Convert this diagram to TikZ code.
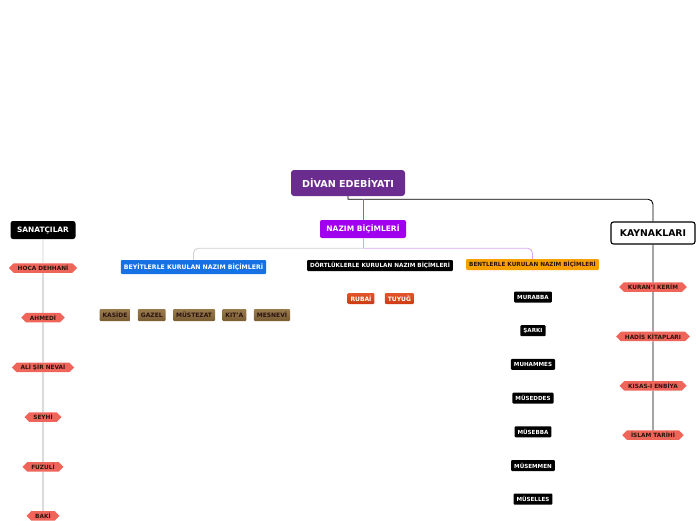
\documentclass[tikz,border=0pt]{standalone}
\usepackage{fontspec}
\setsansfont{DejaVu Sans}
\usetikzlibrary{positioning,shapes.symbols,calc}
\definecolor{divanpurple}{HTML}{6A2C8E}
\definecolor{nazimviolet}{HTML}{A100F0}
\definecolor{beyitblue}{HTML}{1672E4}
\definecolor{bentorange}{HTML}{F7A000}
\definecolor{dortredtop}{HTML}{E2562A}
\definecolor{dortredbot}{HTML}{CC3A14}
\definecolor{browntop}{HTML}{9A7B4C}
\definecolor{brownbot}{HTML}{7A5C34}
\definecolor{hexsalmon}{HTML}{F0655A}
\definecolor{darktext}{HTML}{2A1410}
\definecolor{linegray}{HTML}{9A9A9A}
\definecolor{lightgray}{HTML}{D0D0D0}
\definecolor{lilac}{HTML}{D9A8F2}
\definecolor{linepurple}{HTML}{A650D8}

\begin{document}
\begin{tikzpicture}[
  x=1pt, y=-1pt,
  font=\sffamily\bfseries,
  root/.style={fill=divanpurple, text=white, rounded corners=3pt,
               minimum width=114pt, minimum height=26pt,
               font=\sffamily\bfseries\fontsize{9.6}{10}\selectfont},
  main/.style={fill=nazimviolet, text=white, rounded corners=2pt,
               minimum width=86pt, minimum height=18pt,
               font=\sffamily\bfseries\fontsize{7.5}{8}\selectfont},
  topic/.style={fill=black, text=white, rounded corners=2.5pt,
                minimum height=18pt, minimum width=65pt, inner xsep=3pt,
                font=\sffamily\bfseries\fontsize{7.4}{8}\selectfont},
  sect/.style={text=white, rounded corners=1pt, minimum height=11pt,
               inner xsep=3pt, inner ysep=0pt,
               font=\sffamily\bfseries\fontsize{5.7}{6}\selectfont},
  leaf/.style={text=white, rounded corners=1pt, minimum height=11pt,
               inner xsep=3pt, inner ysep=0pt,
               font=\sffamily\bfseries\fontsize{6}{6}\selectfont},
  brownleaf/.style={leaf, top color=browntop, bottom color=brownbot,
                    text=darktext, minimum height=12pt},
  redleaf/.style={leaf, top color=dortredtop, bottom color=dortredbot},
  blackleaf/.style={leaf, fill=black,
                    font=\sffamily\bfseries\fontsize{5.6}{6}\selectfont},
  hexa/.style={signal, signal to=west and east, fill=hexsalmon, text=darktext,
               minimum height=9.5pt, inner xsep=4pt, inner ysep=0pt,
               font=\sffamily\bfseries\fontsize{5.8}{6}\selectfont},
  conn/.style={line width=0.9pt},
  node distance=7pt]
\useasboundingbox (0,0) rectangle (696,520);

% ---- root and main branch ----
\node[root] (divan) at (348,183) {DİVAN EDEBİYATI};
\node[main] (nazim) at (363,229) {NAZIM BİÇİMLERİ};
\coordinate (jdivan) at ($(divan.south)+(0,3)$);
\coordinate (jnazim) at ($(nazim.south)+(0,10)$);

% ---- form groups ----
\node[sect, fill=beyitblue, minimum height=14pt,
      font=\sffamily\bfseries\fontsize{6.2}{7}\selectfont] (beyit) at (193.5,267) {BEYİTLERLE KURULAN NAZIM BİÇİMLERİ};
\node[sect, fill=black] (dortluk) at (380,265.5) {DÖRTLÜKLERLE KURULAN NAZIM BİÇİMLERİ};
\node[sect, fill=bentorange, text=darktext] (bent) at (532.5,264.5) {BENTLERLE KURULAN NAZIM BİÇİMLERİ};

% ---- beyit forms ----
\node[brownleaf] (kaside) at (115,315) {KASİDE};
\node[brownleaf, right=of kaside] (gazel) {GAZEL};
\node[brownleaf, right=of gazel] (mustezat) {MÜSTEZAT};
\node[brownleaf, right=of mustezat] (kita) {KIT'A};
\node[brownleaf, right=of kita] (mesnevi) {MESNEVİ};

% ---- dortluk forms ----
\node[redleaf] (rubai) at (361,298.5) {RUBAİ};
\node[redleaf, right=10pt of rubai] (tuyug) {TUYUĞ};

% ---- bent forms ----
\node[blackleaf] (murabba) at (533,297) {MURABBA};
\node[blackleaf, below=22.3pt of murabba] (sarki) {ŞARKI};
\node[blackleaf, below=22.3pt of sarki] (muhammes) {MUHAMMES};
\node[blackleaf, below=22.3pt of muhammes] (museddes) {MÜSEDDES};
\node[blackleaf, below=22.3pt of museddes] (musebba) {MÜSEBBA};
\node[blackleaf, below=22.3pt of musebba] (musemmen) {MÜSEMMEN};
\node[blackleaf, below=22.3pt of musemmen] (muselles) {MÜSELLES};

% ---- poets ----
\node[topic] (sanat) at (43,230) {SANATÇILAR};
\node[hexa] (hoca) at (43,268) {HOCA DEHHANİ};
\node[hexa, below=39.8pt of hoca] (ahmedi) {AHMEDİ};
\node[hexa, below=39.8pt of ahmedi] (nevai) {ALİ ŞİR NEVAİ};
\node[hexa, below=39.8pt of nevai] (seyhi) {SEYHİ};
\node[hexa, below=39.8pt of seyhi] (fuzuli) {FUZULİ};
\node[hexa, below=39.2pt of fuzuli] (baki) {BAKİ};

% ---- sources ----
\node[topic, fill=white, text=black, draw=black, line width=1.1pt,
      font=\sffamily\bfseries\fontsize{9.3}{10}\selectfont,
      minimum height=22pt, minimum width=84pt] (kaynak) at (653,233) {KAYNAKLARI};
\node[hexa] (kuran) at (653,287) {KURAN'I KERİM};
\node[hexa, below=39.5pt of kuran] (hadis) {HADİS KİTAPLARI};
\node[hexa, below=39.5pt of hadis] (kisas) {KISAS-I ENBİYA};
\node[hexa, below=39.5pt of kisas] (islam) {İSLAM TARİHİ};

% ---- connectors ----
\draw[conn, black] (divan.south) -- (jdivan) [rounded corners=5pt] -| (kaynak.north);
\draw[conn, linepurple] (jdivan -| nazim.north) -- (nazim.north);
\draw[conn, lilac] (nazim.south) -- (jnazim);
\draw[conn, lightgray, rounded corners=5pt] (jnazim) -| (beyit.north);
\draw[conn, lilac, rounded corners=5pt] (jnazim) -| (bent.north);

\draw[conn, lightgray] (sanat) -- (hoca);
\draw[conn, linegray] (hoca) -- (ahmedi);
\draw[conn, linegray] (ahmedi) -- (nevai);
\draw[conn, linegray] (nevai) -- (seyhi);
\draw[conn, linegray] (seyhi) -- (fuzuli);
\draw[conn, linegray] (fuzuli) -- (baki);

\draw[conn, black] (kaynak) -- (kuran);
\draw[conn, black] (kuran) -- (hadis);
\draw[conn, black] (hadis) -- (kisas);
\draw[conn, black] (kisas) -- (islam);
\end{tikzpicture}
\end{document}
